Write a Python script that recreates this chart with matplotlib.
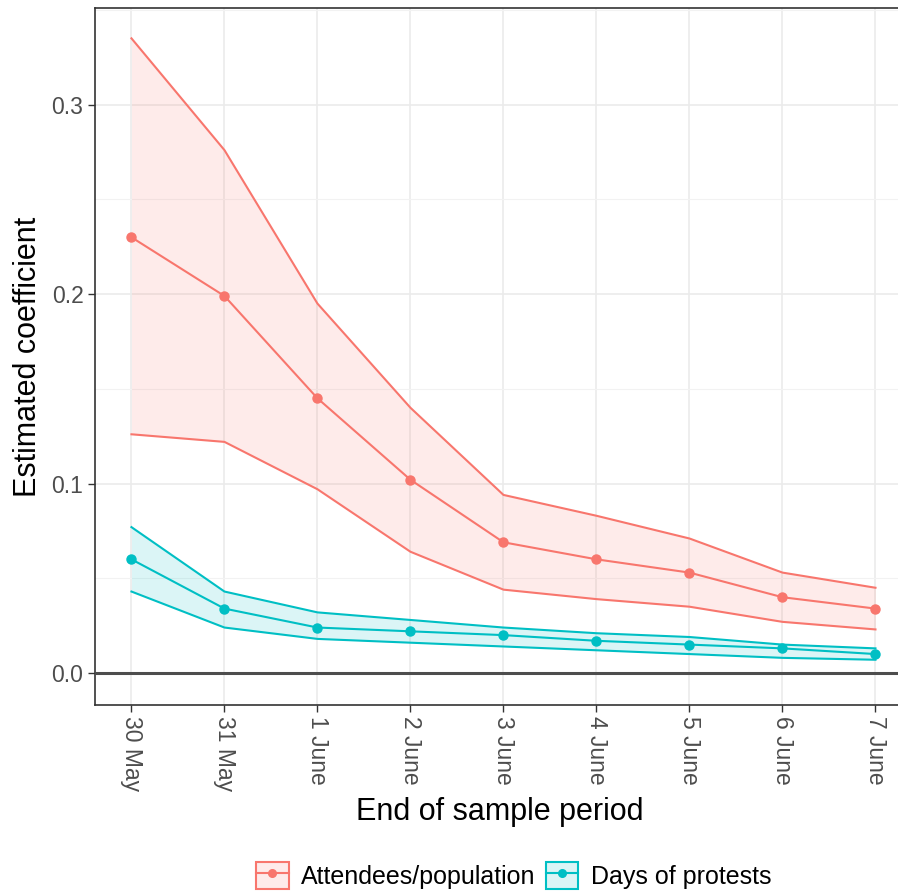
import matplotlib
matplotlib.use("Agg")
import matplotlib.pyplot as plt
from matplotlib.lines import Line2D
from matplotlib.patches import Patch
from matplotlib.ticker import MultipleLocator

plt.rcParams['font.family'] = ['Liberation Sans', 'DejaVu Sans']

# data
dates = ["30 May", "31 May", "1 June", "2 June", "3 June", "4 June", "5 June", "6 June", "7 June"]

att_est = [0.230, 0.199, 0.145, 0.102, 0.069, 0.060, 0.053, 0.040, 0.034]
att_hi = [0.335, 0.276, 0.195, 0.140, 0.094, 0.083, 0.071, 0.053, 0.045]
att_lo = [0.126, 0.122, 0.097, 0.064, 0.044, 0.039, 0.035, 0.027, 0.023]

days_est = [0.060, 0.034, 0.024, 0.022, 0.020, 0.017, 0.015, 0.013, 0.010]
days_hi = [0.077, 0.043, 0.032, 0.028, 0.024, 0.021, 0.019, 0.015, 0.013]
days_lo = [0.043, 0.024, 0.018, 0.016, 0.014, 0.012, 0.010, 0.008, 0.007]

red = '#F8766D'
teal = '#00BFC4'

fig = plt.figure(figsize=(8.98, 8.93), dpi=100)
ax = fig.add_axes([0.106, 0.2105, 0.9, 0.7805])

x = list(range(len(dates)))

def draw(est, lo, hi, color):
    ax.fill_between(x, lo, hi, color=color, alpha=0.14, lw=0, zorder=2)
    ax.plot(x, hi, color=color, lw=1.5, zorder=3)
    ax.plot(x, lo, color=color, lw=1.5, zorder=3)
    ax.plot(x, est, color=color, lw=1.5, marker='o', ms=6.5, zorder=4)

draw(att_est, att_lo, att_hi, red)
draw(days_est, days_lo, days_hi, teal)

ax.axhline(0, color='#4d4d4d', lw=2.2, zorder=3)

ax.set_xlim(-0.39, 8.3)
ax.set_ylim(-0.0169, 0.351)
ax.set_xticks(x)
ax.set_xticklabels(dates, rotation=270, ha='center', va='top')
ax.yaxis.set_minor_locator(MultipleLocator(0.05))
ax.set_yticks([0.0, 0.1, 0.2, 0.3])
ax.set_yticklabels(['0.0', '0.1', '0.2', '0.3'])

ax.grid(which='major', color='#ebebeb', lw=1.2, zorder=0)
ax.grid(which='minor', axis='y', color='#f2f2f2', lw=0.8, zorder=0)
ax.set_axisbelow(True)

ax.tick_params(axis='both', which='major', labelsize=16.5, colors='#333333',
               length=5, width=1.0, labelcolor='#4d4d4d')
ax.tick_params(axis='y', which='minor', length=0)
ax.tick_params(axis='x', pad=3)
for s in ax.spines.values():
    s.set_color('#333333')
    s.set_linewidth(1.2)

ax.set_xlabel('End of sample period', fontsize=22, labelpad=4)
ax.set_ylabel('Estimated coefficient', fontsize=22, labelpad=6)

handles = [
    (Patch(facecolor=red, alpha=0.14, edgecolor='none'),
     Patch(facecolor='none', edgecolor=red, lw=1.5),
     Line2D([], [], color=red, lw=1.5, marker='o', ms=5.5)),
    (Patch(facecolor=teal, alpha=0.14, edgecolor='none'),
     Patch(facecolor='none', edgecolor=teal, lw=1.5),
     Line2D([], [], color=teal, lw=1.5, marker='o', ms=5.5)),
]
fig.legend(handles, ['Attendees/population', 'Days of protests'],
           loc='lower center', bbox_to_anchor=(0.572, -0.021), ncol=2,
           frameon=False, fontsize=18, handlelength=1.3, handleheight=1.3,
           handletextpad=0.5, columnspacing=0.4)

fig.savefig('out.png', dpi=100)
